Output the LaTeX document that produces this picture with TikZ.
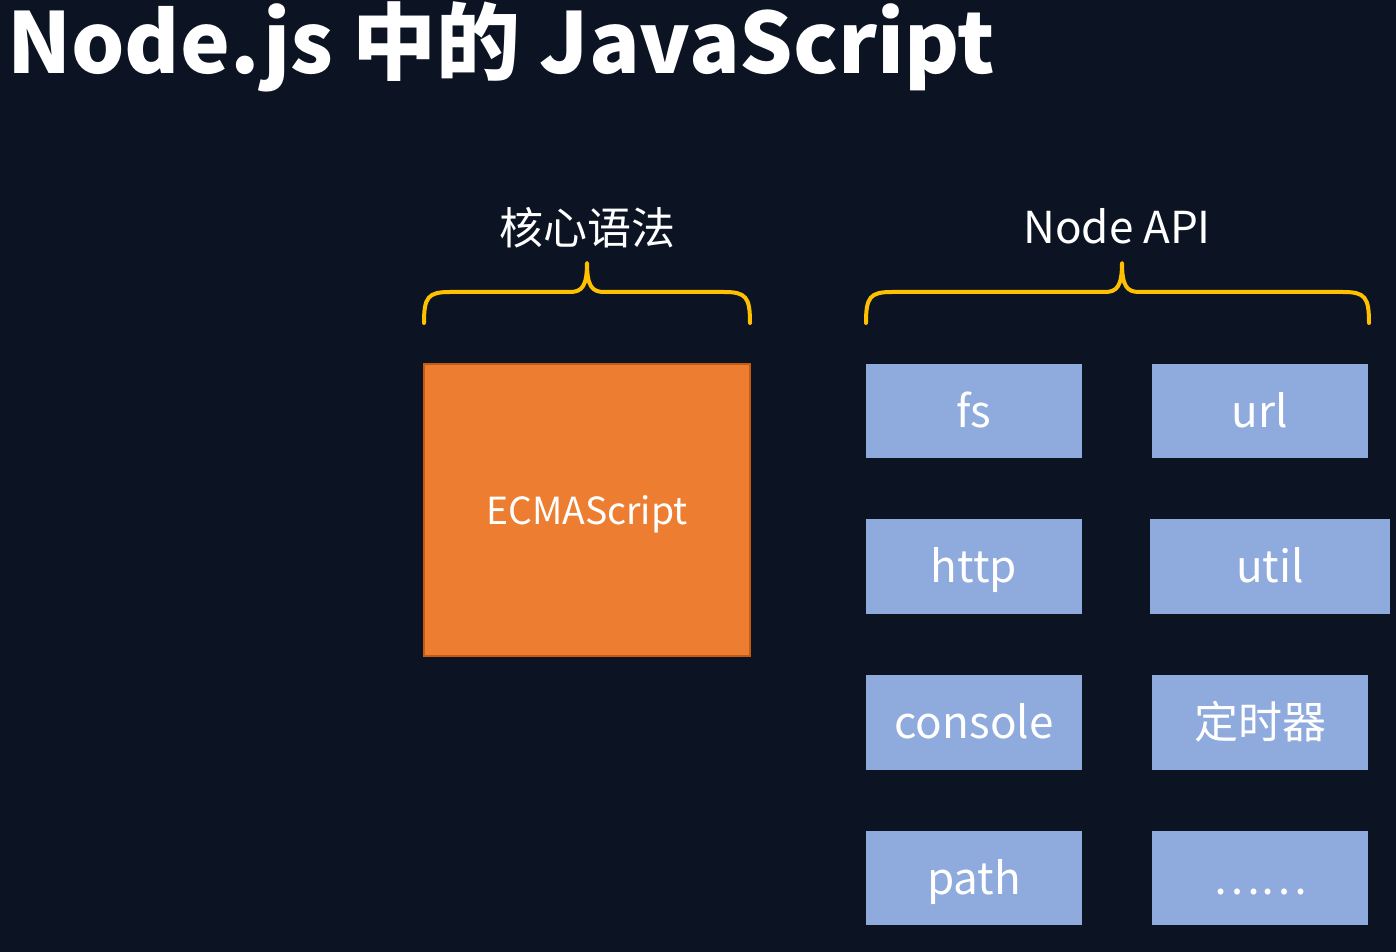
\documentclass[tikz,border=0pt]{standalone}
\usepackage{fontspec}
\setmainfont{Noto Sans CJK SC}
\definecolor{bgnavy}{HTML}{0C1424}
\definecolor{boxblue}{HTML}{8FAADC}
\definecolor{ecmaorange}{HTML}{ED7D31}
\definecolor{ecmaborder}{HTML}{C55A11}
\definecolor{braceyellow}{HTML}{FFC000}
\tikzset{
  apibox/.style={fill=boxblue, draw=none, inner sep=0pt, text=white, text height=25pt, text depth=1pt, font=\fontsize{33}{38}\selectfont},
  grouplabel/.style={text=white, inner sep=0pt, font=\fontsize{33}{38}\selectfont},
  bracestroke/.style={draw=braceyellow, line width=3pt, line cap=round, line join=round}
}
\newcommand{\mybrace}[4]{% left x, mid x, right x, tag
  \coordinate (#4L) at (#1,323);
  \coordinate (#4M) at (#2,263);
  \coordinate (#4R) at (#3,323);
  \draw[bracestroke] (#4L) .. controls (#1,297) and (#1+4,292) .. (#1+26,292)
     -- (#2-17,292) .. controls (#2-5,292) and (#2,286) .. (#4M)
     .. controls (#2,286) and (#2+5,292) .. (#2+17,292)
     -- (#3-26,292) .. controls (#3-4,292) and (#3,297) .. (#4R);
}
\begin{document}
\begin{tikzpicture}[x=0.75pt,y=-0.75pt]
\fill[bgnavy] (0,0) rectangle (1396,952);
\useasboundingbox (0,0) rectangle (1396,952);

% title
\node (title) [anchor=base west, inner sep=0pt, text=white, font=\bfseries\fontsize{63}{70}\selectfont] at (7,74) {Node.js 中的 JavaScript};

% group labels
\node (core) [grouplabel] at (587,228) {核心语法};
\node (api) [grouplabel] at (1117,226) {Node API};

% braces
\mybrace{424}{587}{750}{cb}
\mybrace{866}{1122}{1369}{ab}

% ECMAScript box
\node (ecma) [fill=ecmaorange, draw=ecmaborder, line width=1pt, minimum width=326*0.75pt, minimum height=292*0.75pt, inner sep=0pt] at (587,510) {};
\node (ecmatext) [inner sep=0pt, text=white, text height=22pt, text depth=0pt, font=\fontsize{28}{34}\selectfont] at (ecma.center) {ECMAScript};

% API boxes
\node (fs) [apibox, minimum width=216*0.75pt, minimum height=94*0.75pt] at (974,411) {fs};
\node (url) [apibox, minimum width=216*0.75pt, minimum height=94*0.75pt] at (1260,411) {url};
\node (http) [apibox, minimum width=216*0.75pt, minimum height=95*0.75pt] at (974,566.5) {http};
\node (util) [apibox, minimum width=240*0.75pt, minimum height=95*0.75pt] at (1270,566.5) {util};
\node (console) [apibox, minimum width=216*0.75pt, minimum height=95*0.75pt] at (974,722.5) {console};
\node (timer) [apibox, minimum width=216*0.75pt, minimum height=95*0.75pt] at (1260,722.5) {定时器};
\node (path) [apibox, minimum width=216*0.75pt, minimum height=94*0.75pt] at (974,878) {path};
\node (more) [apibox, minimum width=216*0.75pt, minimum height=94*0.75pt] at (1260,878) {……};
\end{tikzpicture}
\end{document}
